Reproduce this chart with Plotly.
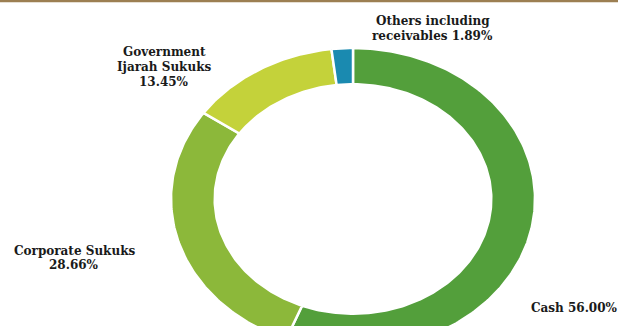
import numpy as np
import plotly.graph_objects as go

# Portfolio allocation
categories = ["Cash", "Corporate Sukuks", "Government Ijarah Sukuks", "Others including receivables"]
shares = [56.00, 28.66, 13.45, 1.89]
colors = ["#539f3b", "#8cb83a", "#c4d23a", "#1a8ab0"]

# label text, one entry per line, in the order of the categories
label_lines = [
    ["Cash 56.00%"],
    ["Corporate Sukuks", "28.66%"],
    ["Government", "Ijarah Sukuks", "13.45%"],
    ["Others including", "receivables 1.89%"],
]

W, H = 618, 326
HOLE = 0.76

fig = go.Figure()

# ring slices, clockwise from 12 o'clock, in unit-circle coordinates
total = sum(shares)
start = 0.0
for name, val, col in zip(categories, shares, colors):
    end = start + val / total
    t = np.linspace(start, end, max(int(val * 4), 8)) * 2 * np.pi
    xo, yo = np.sin(t), np.cos(t)
    x = np.concatenate([xo, HOLE * xo[::-1], xo[:1]])
    y = np.concatenate([yo, HOLE * yo[::-1], yo[:1]])
    fig.add_trace(go.Scatter(x=x, y=y, mode="lines", fill="toself", fillcolor=col,
                             line=dict(color="white", width=2.5), name=name,
                             hoveron="fills", hoverinfo="name", showlegend=False))
    start = end

# axes: one unit spans 182 px across and 151 px down, so the ring is drawn wide
xr = [-353 / 182, (W - 353) / 182]
yr = [-(H - 199) / 151, 199 / 151]
fig.update_xaxes(range=xr, visible=False, fixedrange=True)
fig.update_yaxes(range=yr, visible=False, fixedrange=True)

font = dict(family="DejaVu Serif", size=12, color="#1a1a1a")
line_gap = 14.5

# label anchors (px): centre x, centre y of the text block
anchors = [(574, 308), (74, 258), (164, 67), (433, 28.5)]
for lines, (ax, ay) in zip(label_lines, anchors):
    n = len(lines)
    for i, txt in enumerate(lines):
        ypx = ay + (i - (n - 1) / 2) * line_gap
        fig.add_annotation(text=f"<b>{txt}</b>", x=ax / W, y=1 - ypx / H,
                           xref="paper", yref="paper", showarrow=False,
                           xanchor="center", yanchor="middle", font=font)

# rule across the top
fig.add_shape(type="line", xref="paper", yref="paper", x0=0, x1=1,
              y0=1 - 1 / H, y1=1 - 1 / H, line=dict(color="#9c7f52", width=2.5))

fig.update_layout(width=W, height=H, margin=dict(l=0, r=0, t=0, b=0),
                  paper_bgcolor="white", plot_bgcolor="white")

fig.write_html("out.html", config=dict(displayModeBar=False))
